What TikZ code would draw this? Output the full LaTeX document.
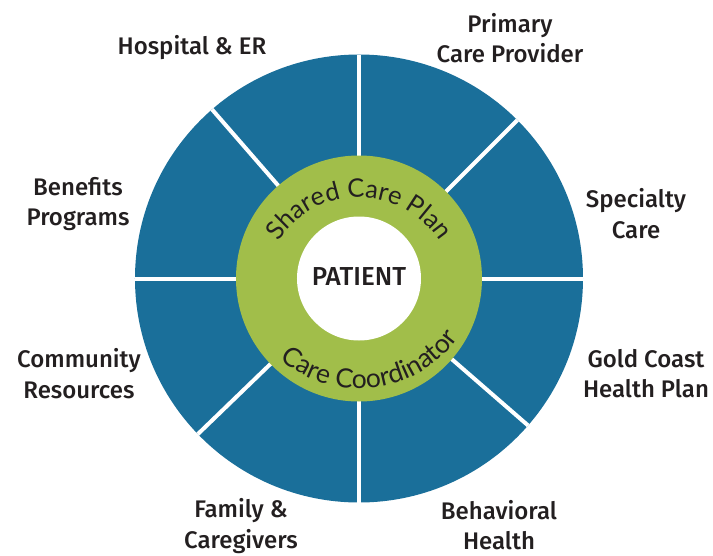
\documentclass[tikz,border=0pt]{standalone}
\usepackage{fontspec}
\setmainfont{Fira Sans}
\newfontfamily\labelfont{Fira Sans Medium}
\newfontfamily\arcfont{Lato}
\usetikzlibrary{decorations.text}

\definecolor{wheelblue}{HTML}{1A6F9A}
\definecolor{ringgreen}{HTML}{A1BE4A}
\definecolor{textgray}{HTML}{231F20}

\begin{document}
\begin{tikzpicture}[x=1pt, y=1pt]
	% Setup the styles for the labels and the ring texts
	\tikzset{label style/.style={font=\labelfont\fontsize{24}{30.5}\selectfont,
			align=center, text=textgray},
		ring text/.style={decorate, decoration={text along path,
				text align=center, text color=textgray}}}
	
	\useasboundingbox (-359,-276.5) rectangle (354,278.5);
	
	% outer wheel with its spokes
	\fill[wheelblue] (0,0) circle[radius=224];
	\foreach \a in {0,45,90,131,180,224,270,319}
	\draw[white, line width=4pt] (0,0) -- (\a:224);
	
	% ring and centre
	\fill[ringgreen] (0,0) circle[radius=123];
	\fill[white] (0,0) circle[radius=62];
	
	\path[ring text, shift={(0,-15)},
	decoration={text={|\arcfont\fontsize{25.5}{30}\selectfont|Shared Care Plan}}]
	(178:96) arc[start angle=178, end angle=2, radius=96];
	\path[ring text, shift={(0,12)},
	decoration={text={|\arcfont\fontsize{26.5}{30}\selectfont|Care Coordinator}}]
	(187:122) arc[start angle=187, end angle=367, radius=122];
	
	\node[label style, font=\labelfont\fontsize{26}{30}\selectfont] (patient) at (0,2) {PATIENT};
	\node[label style]                 (hospital)   at (-167,231)   {Hospital \& ER};
	\node[label style]                 (primary)    at (151,240.5)  {Primary\\Care Provider};
	\node[label style]                 (specialty)  at (277,65)     {Specialty\\Care};
	\node[label style]                 (benefits)   at (-281,74.5)  {Benefits\\Programs};
	\node[label style]                 (community)  at (-280,-95)   {Community\\Resources};
	\node[label style]                 (goldcoast)  at (287,-95)    {Gold Coast\\Health Plan};
	\node[label style]                 (family)     at (-118,-247.5){Family \&\\Caregivers};
	\node[label style]                 (behavioral) at (140,-246.5) {Behavioral\\Health};
	
\end{tikzpicture}
\end{document}
